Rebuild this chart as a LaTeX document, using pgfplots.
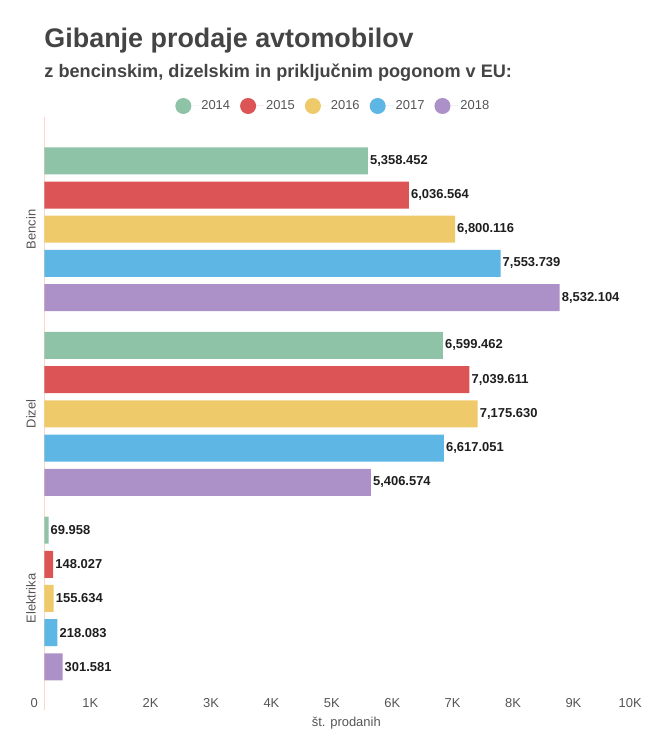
\documentclass[border=0pt]{standalone}
\usepackage{pgfplots}
\pgfplotsset{compat=1.18}
\usepackage{fontspec}
\setmainfont{Liberation Sans}
\definecolor{c14}{RGB}{143,195,168}
\definecolor{c15}{RGB}{220,84,86}
\definecolor{c16}{RGB}{239,202,106}
\definecolor{c17}{RGB}{94,182,228}
\definecolor{c18}{RGB}{172,144,200}
\definecolor{axisline}{RGB}{252,215,200}
\definecolor{titlegray}{RGB}{68,68,68}
\definecolor{labelgray}{RGB}{85,85,85}
\definecolor{valtext}{RGB}{30,30,30}
\begin{document}
\begin{tikzpicture}
\begin{axis}[
  scale only axis, width=604bp, height=593bp,
  xmin=0, xmax=10000, ymin=-0.604, ymax=2.608,
  xbar, bar width=27bp,
  axis lines*=left,
  x axis line style={draw=none},
  y axis line style={draw=axisline, line width=1bp},
  major tick length=0pt,
  scaled x ticks=false,
  xtick={0,1000,2000,3000,4000,5000,6000,7000,8000,9000,10000},
  xticklabels={0,1K,2K,3K,4K,5K,6K,7K,8K,9K,10K},
  xticklabel style={anchor=east, xshift=-3bp, yshift=7bp, font=\fontsize{13}{15}\selectfont, text=labelgray},
  ytick={0,1,2}, yticklabels={Elektrika,Dizel,Bencin},
  yticklabel shift=5bp,
  yticklabel style={rotate=90, anchor=south, font=\fontsize{13}{15}\selectfont, text=labelgray},
  xlabel={št. prodanih},
  xlabel style={at={(axis description cs:0.5,0)}, anchor=center, yshift=-13bp, font=\fontsize{13}{15}\selectfont, text=labelgray},
  nodes near coords, point meta=x,
  /pgf/number format/.cd, fixed, fixed zerofill, precision=3, 1000 sep={,}, assume math mode=true, /pgfplots/.cd,
  nodes near coords style={font=\bfseries\fontsize{13}{15}\selectfont, text=valtext, inner sep=2bp, anchor=west},
  legend columns=5,
  legend style={draw=none, at={(0.5,1)}, anchor=center, xshift=-13bp, yshift=11bp,
    font=\fontsize{13}{15}\selectfont, text=labelgray,
    /tikz/every even column/.append style={column sep=8bp}},
  legend image code/.code={\fill (0bp,0bp) circle (8bp); \path (-8bp,0bp) -- (16bp,0bp);},
]
\addplot[fill=c14, draw=none, bar shift=68.4bp] coordinates {(5358.452,2) (6599.462,1) (69.958,0)};
\addplot[fill=c15, draw=none, bar shift=34.2bp] coordinates {(6036.564,2) (7039.611,1) (148.027,0)};
\addplot[fill=c16, draw=none, bar shift=0bp] coordinates {(6800.116,2) (7175.630,1) (155.634,0)};
\addplot[fill=c17, draw=none, bar shift=-34.2bp] coordinates {(7553.739,2) (6617.051,1) (218.083,0)};
\addplot[fill=c18, draw=none, bar shift=-68.4bp] coordinates {(8532.104,2) (5406.574,1) (301.581,0)};
\legend{2014,2015,2016,2017,2018}
\end{axis}
\node[anchor=base west, inner sep=0, font=\bfseries\fontsize{27}{30}\selectfont, text=titlegray] at ([yshift=69bp]current axis.north west) {Gibanje prodaje avtomobilov};
\node[anchor=base west, inner sep=0, font=\bfseries\fontsize{18.2}{21}\selectfont, text=titlegray] at ([yshift=39bp]current axis.north west) {z bencinskim, dizelskim in priključnim pogonom v EU:};
\pgfresetboundingbox
\path ([xshift=-44.3bp, yshift=117bp]current axis.north west) rectangle ++(649bp,-736bp);
\end{tikzpicture}
\end{document}
